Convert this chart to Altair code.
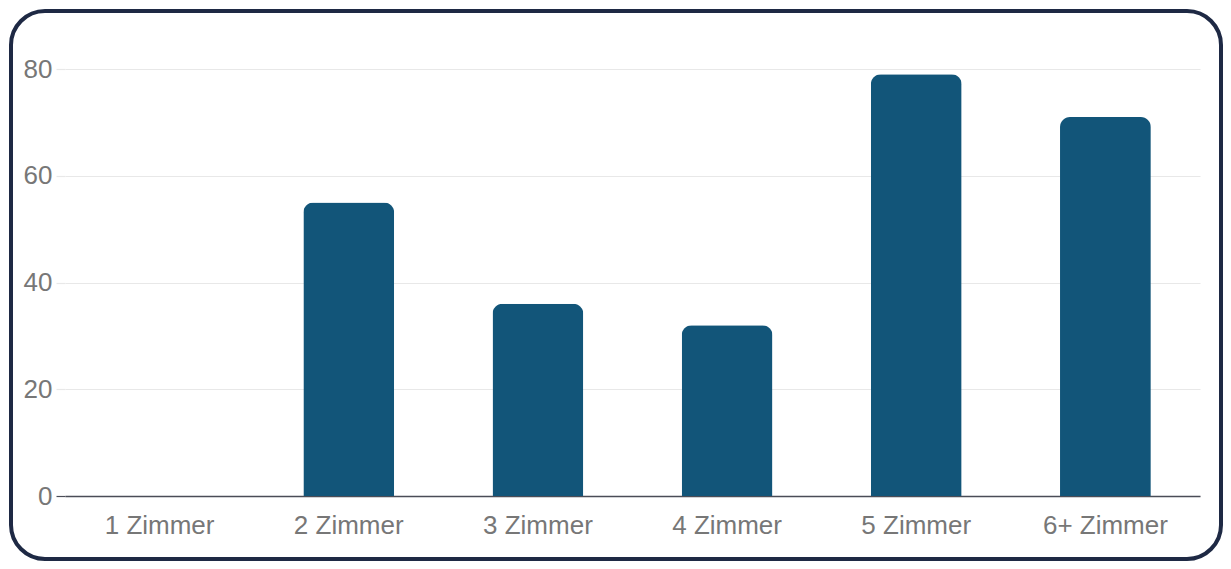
import altair as alt
import pandas as pd

categories = ["1 Zimmer", "2 Zimmer", "3 Zimmer", "4 Zimmer", "5 Zimmer", "6+ Zimmer"]
values = [0, 55, 36, 32, 79, 71]
y_ticks = [0, 20, 40, 60, 80]

df = pd.DataFrame({"kategorie": categories, "wert": values})

W, H = 1135, 427
FONT = "Liberation Sans"
TEXT = "#777777"

frame = alt.Chart(pd.DataFrame({"a": [0]})).mark_rect(
    filled=False, stroke="#1e2944", strokeWidth=4, cornerRadius=34
).encode(
    x=alt.value(-54), x2=alt.value(W + 21),
    y=alt.value(-58), y2=alt.value(H + 63),
)

bars = alt.Chart(df).mark_bar(
    color="#125579",
    cornerRadiusTopLeft=10, cornerRadiusTopRight=10,
).encode(
    x=alt.X("kategorie:N", sort=categories, title=None,
            scale=alt.Scale(paddingInner=0.52, paddingOuter=0.26),
            axis=alt.Axis(labelAngle=0, ticks=False, labelPadding=16,
                          labelFontSize=26, labelColor=TEXT, labelFont=FONT,
                          domainColor="#4a4d57", domainWidth=1.5, grid=False)),
    y=alt.Y("wert:Q", title=None,
            scale=alt.Scale(domain=[0, 80], nice=False),
            axis=alt.Axis(values=y_ticks, domain=False, grid=True,
                          gridColor="#e8e8e8", gridWidth=1.2,
                          tickSize=9, tickWidth=1.2,
                          tickColor=alt.condition("datum.value == 0", alt.value("#4a4d57"), alt.value("#e8e8e8")),
                          labelPadding=4, labelFontSize=26, labelColor=TEXT,
                          labelFont=FONT)),
)

chart = alt.layer(frame, bars).properties(
    width=W, height=H,
    autosize=alt.AutoSizeParams(type="none"),
    padding={"left": 57, "top": 61, "right": 23, "bottom": 65},
    background="white",
).configure_view(stroke=None)

chart.save("out.html", embed_options={"renderer": "svg", "actions": False})
